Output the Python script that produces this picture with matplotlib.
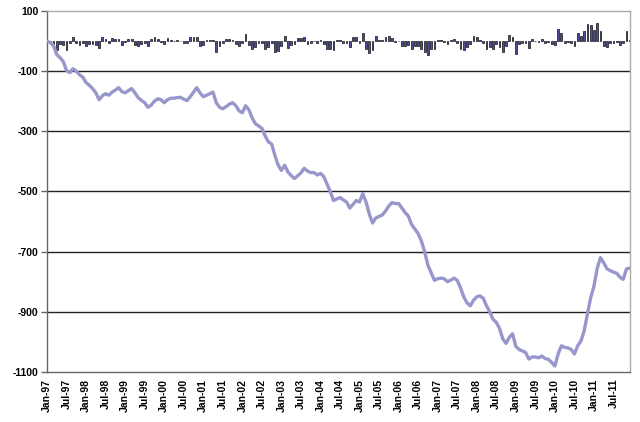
import numpy as np
import matplotlib
matplotlib.use('Agg')
import matplotlib.pyplot as plt

plt.rcParams['font.family'] = ['Liberation Sans', 'DejaVu Sans']

# cumulative line, one value per month, Jan-97 .. Dec-11
line_vals = [
    0, -5, -15, -45, -55, -68, -98, -105, -92, -100, -112, -120,
    -138, -147, -158, -172, -195, -182, -175, -180, -170, -163, -155, -168,
    -172, -165, -158, -172, -188, -197, -205, -220, -213, -200, -192, -195,
    -205, -195, -190, -190, -188, -187, -193, -198, -185, -170, -155, -172,
    -185, -180, -175, -170, -205, -220, -225, -218, -210, -205, -215, -232,
    -238, -215, -228, -255, -275, -282, -290, -315, -335, -342, -380, -412,
    -430, -413, -435, -447, -457, -448, -438, -423, -432, -437, -437, -445,
    -440, -450, -475, -500, -530, -525, -520, -528, -535, -555, -543, -530,
    -535, -507, -535, -575, -605, -588, -583, -578, -565, -548, -537, -540,
    -540, -555, -570, -582, -610, -625, -640, -665, -700, -745, -770, -795,
    -790, -788, -790, -800, -795, -788, -795, -820, -850, -870, -880, -862,
    -850, -847, -855, -880, -900, -925, -935, -955, -990, -1005, -985, -973,
    -1015, -1025, -1030, -1035, -1057, -1050, -1050, -1053, -1047, -1055, -1058, -1068,
    -1080, -1040, -1013, -1018, -1020, -1025, -1040, -1013, -997, -963, -907, -853,
    -815, -755, -720, -737, -757, -763, -768, -772, -785, -792, -757, -755,
]

# monthly bars
bar_vals = [
    0, -5, -10, -30, -10, -13, -30, -7, 13, -8, -12, -8,
    -18, -9, -11, -14, -23, 13, 7, -5, 10, 7, 8, -13,
    -4, 7, 7, -14, -16, -9, -8, -15, 7, 13, 8, -3,
    -10, 10, 5, 0, 2, 1, -6, -5, 13, 15, 15, -17,
    -13, 5, 5, 5, -35, -15, -5, 7, 8, 5, -10, -17,
    -6, 23, -13, -27, -20, -7, -8, -25, -20, -7, -38, -32,
    -18, 17, -22, -12, -10, 9, 10, 15, -9, -5, 0, -8,
    5, -10, -25, -25, -30, 5, 5, -8, -7, -20, 12, 13,
    -5, 28, -28, -40, -30, 17, 5, 5, 13, 17, 11, -3,
    0, -15, -15, -12, -28, -15, -15, -25, -35, -45, -25, -25,
    5, 2, -2, -10, 5, 7, -7, -25, -30, -20, -10, 18,
    12, 3, -8, -25, -20, -25, -10, -20, -35, -15, 20, 12,
    -42, -10, -5, -5, -22, 7, 0, -3, 6, -8, -3, -10,
    -12, 40, 27, -5, -2, -5, -15, 27, 16, 34, 56, 54,
    38, 60, 35, -17, -20, -6, -5, -4, -13, -7, 35, 2,
]

tick_labels = [
    'Jan-97', 'Jul-97', 'Jan-98', 'Jul-98', 'Jan-99', 'Jul-99', 'Jan-00', 'Jul-00',
    'Jan-01', 'Jul-01', 'Jan-02', 'Jul-02', 'Jan-03', 'Jul-03', 'Jan-04', 'Jul-04',
    'Jan-05', 'Jul-05', 'Jan-06', 'Jul-06', 'Jan-07', 'Jul-07', 'Jan-08', 'Jul-08',
    'Jan-09', 'Jul-09', 'Jan-10', 'Jul-10', 'Jan-11', 'Jul-11',
]
y_ticks = [100, -100, -300, -500, -700, -900, -1100]

x = np.arange(len(line_vals))

fig = plt.figure(figsize=(6.4, 4.22), dpi=100)
ax = fig.add_axes([0.0734, 0.1185, 0.9106, 0.8555])

for yv in y_ticks[1:-1]:
    ax.axhline(yv, color='#222222', lw=1.0, zorder=1)

ax.bar(x, bar_vals, width=0.55, color='#4f4f9c', edgecolor='#111111', linewidth=0.5, zorder=2)
ax.plot(x, line_vals, color='#9797cb', lw=2.4, solid_joinstyle='round', zorder=3)

ax.set_xlim(0, len(line_vals) - 1)
ax.set_ylim(-1100, 100)
ax.set_yticks(y_ticks)
ax.set_yticklabels([str(v) for v in y_ticks], fontweight='bold')
ax.set_xticks(x[::6])
ax.set_xticklabels(tick_labels, rotation=90, fontweight='bold')

ax.tick_params(axis='y', length=4, width=1, color='#666666', labelsize=7.5, pad=2)
ax.tick_params(axis='x', length=0, labelsize=7.5, pad=5)

ax.spines['left'].set_color('#666666')
ax.spines['bottom'].set_color('#666666')
ax.spines['top'].set_color('#aaaaaa')
ax.spines['right'].set_color('#aaaaaa')
for s in ax.spines.values():
    s.set_linewidth(1.0)

fig.savefig('out.png', dpi=100)
